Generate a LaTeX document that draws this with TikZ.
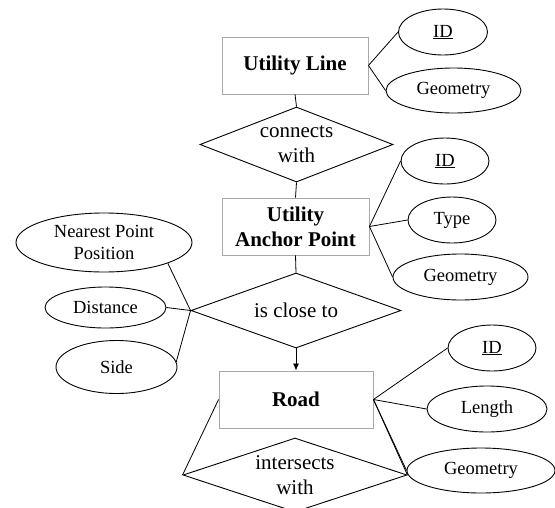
\documentclass[tikz,border=0pt]{standalone}
\usepackage{fontspec}
\setmainfont{Liberation Serif}
\usetikzlibrary{shapes.geometric,arrows.meta}
\definecolor{boxgray}{RGB}{168,168,168}
\tikzset{
  entity/.style={draw=boxgray, line width=0.9pt, rectangle, inner sep=0pt,
    align=center, font=\fontsize{21}{25}\selectfont\bfseries},
  attr/.style={draw, line width=0.9pt, ellipse, inner sep=0pt,
    align=center, font=\fontsize{18.5}{21.7}\selectfont},
  rel/.style={draw, line width=0.9pt, diamond, inner sep=0pt,
    align=center, font=\fontsize{21}{25}\selectfont},
  link/.style={line width=0.8pt},
  arrowlink/.style={line width=0.8pt, -{Latex[length=7pt,width=6pt]}}
}
\begin{document}
\begin{tikzpicture}[x=1pt,y=-1pt]
\useasboundingbox (0,0) rectangle (555,507);
\clip (0,0) rectangle (555,507);

% entities
\node[entity, minimum width=146, minimum height=57] (ul) at (295,65.5) {Utility Line};
\node[entity, minimum width=147, minimum height=57] (ap) at (295.5,226.5) {Utility\\Anchor Point};
\node[entity, minimum width=154, minimum height=57] (rd) at (296,399.5) {Road};

% relationships
\node[rel, aspect=2.57, minimum width=193, minimum height=75] (cw) at (296.5,144.5) {connects\\with};
\node[rel, aspect=2.8, minimum width=210, minimum height=75] (cl) at (296,310.5) {is close to};
\node[rel, aspect=3.03, minimum width=224, minimum height=74] (iw) at (295,475) {intersects\\with};

% attributes of Utility Line
\node[attr, minimum width=89, minimum height=46] (ulid) at (443,32) {\underline{ID}};
\node[attr, minimum width=135, minimum height=45] (ulgeo) at (453.5,90.5) {Geometry};

% attributes of Utility Anchor Point
\node[attr, minimum width=88, minimum height=46] (apid) at (445,161) {\underline{ID}};
\node[attr, minimum width=88, minimum height=46] (aptype) at (452,220) {Type};
\node[attr, minimum width=135, minimum height=46] (apgeo) at (460.5,277) {Geometry};

% attributes of the "is close to" relationship
\node[attr, minimum width=176, minimum height=59] (npp) at (104,242.5) {Nearest Point\\Position};
\node[attr, minimum width=121, minimum height=41] (dist) at (105.5,307.5) {Distance};
\node[attr, minimum width=121, minimum height=53] (side) at (116.5,367) {Side};

% attributes of Road
\node[attr, minimum width=88, minimum height=46] (rdid) at (492,348) {\underline{ID}};
\node[attr, minimum width=120, minimum height=46] (rdlen) at (487,409) {Length};
\node[attr, minimum width=148, minimum height=45] (rdgeo) at (481,470.5) {Geometry};

% connectors
\draw[link] (ul.south) -- (cw.north);
\draw[link] (cw.south) -- (ap.north);
\draw[link] (ap.south) -- (cl.north);
\draw[arrowlink] (cl.south) -- (rd.north);
\draw[link] (rd.west) -- (iw.west);
\draw[link] (rd.east) -- (iw.east);

\draw[link] (ul.east) -- (ulid.west);
\draw[link] (ul.east) -- (ulgeo.west);
\draw[link] (ap.east) -- (apid.west);
\draw[link] (ap.east) -- (aptype.west);
\draw[link] (ap.east) -- (apgeo.west);
\draw[link] (cl.west) -- (npp.-18);
\draw[link] (cl.west) -- (dist.east);
\draw[link] (cl.west) -- (side.5);
\draw[link] (rd.east) -- (rdid.west);
\draw[link] (rd.east) -- (rdlen.west);
\draw[link] (rd.east) -- (rdgeo.west);
\end{tikzpicture}
\end{document}
